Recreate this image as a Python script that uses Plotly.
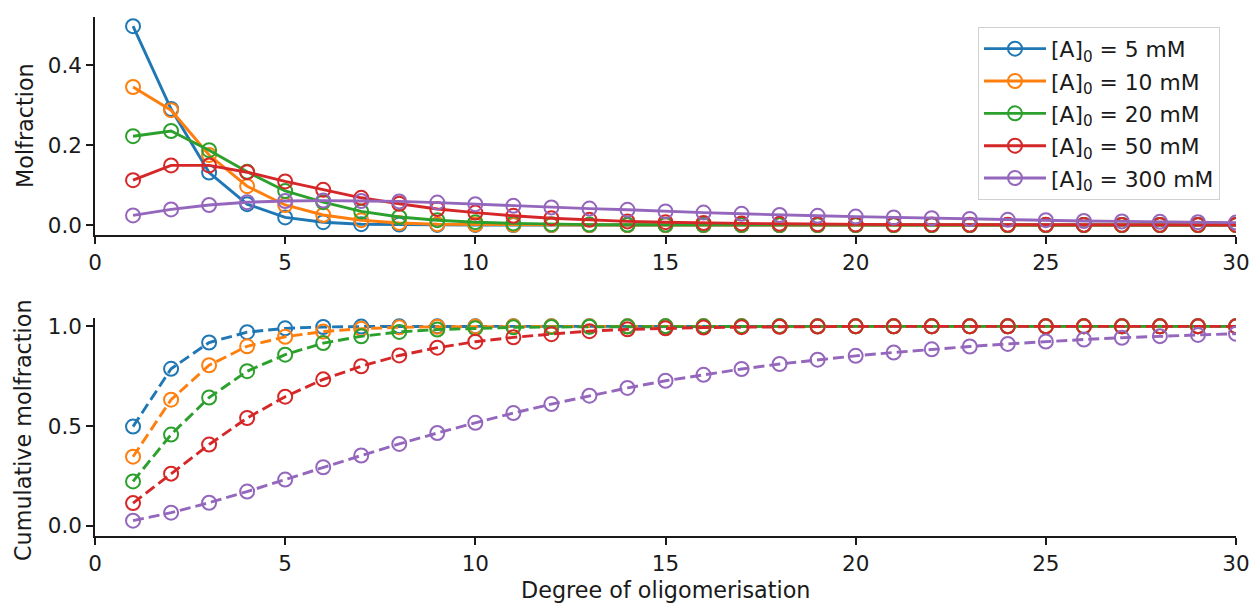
import plotly.graph_objects as go

W, H = 1252, 604

# Degree of oligomerisation
n = list(range(1, 31))

labels = ["[A]<sub>0</sub> = 5 mM", "[A]<sub>0</sub> = 10 mM", "[A]<sub>0</sub> = 20 mM",
          "[A]<sub>0</sub> = 50 mM", "[A]<sub>0</sub> = 300 mM"]
colors = ["#1f77b4", "#ff7f0e", "#2ca02c", "#d62728", "#9467bd"]

# Molfraction of each oligomer
mf_5 = [0.497, 0.290, 0.131, 0.052, 0.019, 0.007, 0.002, 0.001, 0.0003, 0.0001] + [0.0] * 20
mf_10 = [0.345, 0.287, 0.175, 0.097, 0.050, 0.025, 0.012, 0.005, 0.002, 0.001,
         0.0005, 0.0002] + [0.0] * 18
mf_20 = [0.222, 0.235, 0.187, 0.133, 0.085, 0.057, 0.034, 0.020, 0.012, 0.007,
         0.004, 0.002, 0.001, 0.0007, 0.0004, 0.0002, 0.0001] + [0.0] * 13
mf_50 = [0.112, 0.149, 0.149, 0.132, 0.109, 0.088, 0.068, 0.053, 0.040, 0.031,
         0.023, 0.017, 0.013, 0.009, 0.007, 0.005, 0.004, 0.003, 0.002, 0.0015,
         0.001, 0.001, 0.0007, 0.0005, 0.0004, 0.0003, 0.0002, 0.0002, 0.0001, 0.0001]
mf_300 = [0.024, 0.039, 0.050, 0.057, 0.060, 0.061, 0.060, 0.059, 0.056, 0.052,
          0.048, 0.044, 0.041, 0.038, 0.034, 0.031, 0.028, 0.025, 0.023, 0.021,
          0.019, 0.017, 0.015, 0.013, 0.012, 0.010, 0.009, 0.008, 0.007, 0.006]

# Cumulative molfraction
cum_5 = [0.497, 0.787, 0.919, 0.971, 0.990, 0.997, 0.999] + [1.0] * 23
cum_10 = [0.346, 0.632, 0.805, 0.900, 0.948, 0.974, 0.988, 0.995, 0.998, 0.999] + [1.0] * 20
cum_20 = [0.222, 0.457, 0.643, 0.775, 0.858, 0.916, 0.950, 0.972, 0.984, 0.991,
          0.995, 0.997, 0.998, 0.999] + [1.0] * 16
cum_50 = [0.113, 0.261, 0.407, 0.540, 0.647, 0.734, 0.800, 0.854, 0.893, 0.923,
          0.945, 0.961, 0.976, 0.985, 0.990, 0.994, 0.996, 0.998, 0.999] + [1.0] * 11
cum_300 = [0.025, 0.065, 0.115, 0.171, 0.231, 0.293, 0.352, 0.410, 0.465, 0.516,
           0.565, 0.610, 0.652, 0.691, 0.727, 0.757, 0.786, 0.811, 0.833, 0.852,
           0.869, 0.885, 0.899, 0.912, 0.924, 0.934, 0.943, 0.951, 0.957, 0.963]

molfractions = [mf_5, mf_10, mf_20, mf_50, mf_300]
cumulatives = [cum_5, cum_10, cum_20, cum_50, cum_300]

FONT = "DejaVu Sans"
TXT = "#1a1a1a"
FS_TICK = 21.5
FS_TITLE = 22.3
FS_LEG = 21.8
LW = 2.9

fig = go.Figure()

for i, (lab, col, ys) in enumerate(zip(labels, colors, molfractions)):
    fig.add_trace(go.Scatter(
        x=n, y=ys, name=lab, mode="lines+markers", legendgroup=f"g{i}",
        line=dict(color=col, width=LW),
        marker=dict(symbol="circle-open", size=14, color=col, line=dict(width=2, color=col)),
        xaxis="x", yaxis="y",
    ))

for i, (lab, col, ys) in enumerate(zip(labels, colors, cumulatives)):
    fig.add_trace(go.Scatter(
        x=n, y=ys, name=lab, mode="lines+markers", showlegend=False, legendgroup=f"g{i}",
        line=dict(color=col, width=LW, dash="11px,5px"),
        marker=dict(symbol="circle-open", size=14, color=col, line=dict(width=2, color=col)),
        xaxis="x2", yaxis="y2",
    ))

def px_x(p):
    return p / W

def px_y(p):
    return 1 - p / H

x_dom = [px_x(95), px_x(1236)]

axis_common = dict(
    showline=True, linecolor=TXT, linewidth=1.5,
    ticks="outside", ticklen=7, tickwidth=1.5, tickcolor=TXT,
    showgrid=False, zeroline=False, automargin=False,
    tickfont=dict(family=FONT, size=FS_TICK, color=TXT),
)

title_font = dict(family=FONT, size=FS_TITLE, color=TXT)

fig.update_layout(
    width=W, height=H,
    margin=dict(l=0, r=0, t=0, b=0),
    paper_bgcolor="white", plot_bgcolor="white",
    font=dict(family=FONT, size=FS_TICK, color=TXT),
    xaxis=dict(domain=x_dom, range=[0, 30], tickvals=[0, 5, 10, 15, 20, 25, 30],
               anchor="y", **axis_common),
    yaxis=dict(domain=[px_y(235), px_y(17)], range=[-0.025, 0.52],
               tickvals=[0.0, 0.2, 0.4], tickformat=".1f", anchor="x", **axis_common),
    xaxis2=dict(domain=x_dom, range=[0, 30], tickvals=[0, 5, 10, 15, 20, 25, 30],
                anchor="y2", **axis_common),
    yaxis2=dict(domain=[px_y(536), px_y(318)], range=[-0.052, 1.042],
                tickvals=[0.0, 0.5, 1.0], tickformat=".1f", anchor="x2", **axis_common),
    legend=dict(
        x=px_x(978), y=px_y(27), xanchor="left", yanchor="top",
        bgcolor="rgba(255,255,255,0.8)", bordercolor="#d0d0d0", borderwidth=1,
        font=dict(family=FONT, size=FS_LEG, color=TXT),
        itemwidth=62, traceorder="grouped", tracegroupgap=1,
    ),
    showlegend=True,
    annotations=[
        dict(text="Molfraction", xref="paper", yref="paper", x=px_x(25), y=px_y(126),
             xanchor="center", yanchor="middle", textangle=-90, showarrow=False,
             font=title_font),
        dict(text="Cumulative molfraction", xref="paper", yref="paper", x=px_x(23), y=px_y(430),
             xanchor="center", yanchor="middle", textangle=-90, showarrow=False,
             font=title_font),
        dict(text="Degree of oligomerisation", xref="paper", yref="paper", x=px_x(665), y=px_y(590),
             xanchor="center", yanchor="middle", showarrow=False,
             font=title_font),
    ],
)

fig.write_html("out.html")
